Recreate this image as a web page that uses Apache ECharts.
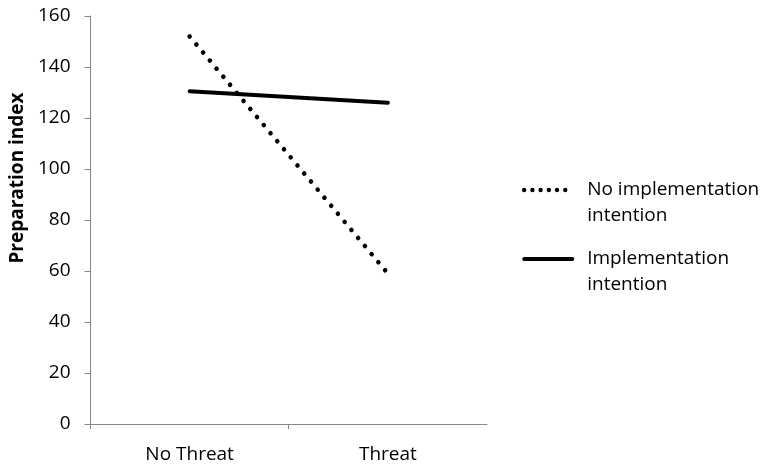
<!DOCTYPE html>
<html>
<head>
<meta charset="utf-8">
<script src="https://cdn.jsdelivr.net/npm/echarts@6/dist/echarts.min.js"></script>
<style>
html,body{margin:0;padding:0;background:#fff;}
#chart{width:771px;height:466px;}
</style>
</head>
<body>
<div id="chart"></div>
<script>
var categories = ["No Threat", "Threat"];
var noIntention = [152, 59];
var intention = [130.5, 126];
var seriesNames = ["No implementation intention", "Implementation intention"];
var legendLabels = ["No implementation\nintention", "Implementation\nintention"];
var yTicks = [0, 20, 40, 60, 80, 100, 120, 140, 160];

var FONT = "Open Sans";
var chart = echarts.init(document.getElementById('chart'), null, {renderer: 'canvas'});
chart.setOption({
  backgroundColor: '#fff',
  animation: false,
  grid: {left: 90, right: 284, top: 16, bottom: 42, containLabel: false},
  xAxis: {
    type: 'category',
    data: categories,
    boundaryGap: true,
    axisLine: {lineStyle: {color: '#868686', width: 1}},
    axisTick: {show: true, length: 5, lineStyle: {color: '#868686'}},
    axisLabel: {color: '#000', fontFamily: FONT, fontSize: 19, margin: 21}
  },
  yAxis: {
    type: 'value',
    min: yTicks[0],
    max: yTicks[yTicks.length - 1],
    interval: 20,
    name: 'Preparation index',
    nameLocation: 'middle',
    nameGap: 62,
    nameTextStyle: {color: '#000', fontFamily: FONT, fontSize: 19, fontWeight: 'bold', padding: [0, 0, 0, 84]},
    axisLine: {show: true, lineStyle: {color: '#868686', width: 1}},
    axisTick: {show: true, length: 6, lineStyle: {color: '#868686'}},
    axisLabel: {color: '#000', fontFamily: FONT, fontSize: 19, margin: 20},
    splitLine: {show: false}
  },
  legend: {
    orient: 'vertical',
    left: 517,
    top: 146,
    itemWidth: 48,
    itemHeight: 14,
    itemGap: -9,
    itemStyle: {opacity: 0},
    formatter: function (n) { return '\n' + legendLabels[seriesNames.indexOf(n)]; },
    textStyle: {color: '#000', fontFamily: FONT, fontSize: 19, lineHeight: 26, padding: [0, 0, 0, 10]},
    data: [
      {name: seriesNames[0], lineStyle: {color: '#000', width: 4.4, type: [0.01, 8.2], cap: 'round'}},
      {name: seriesNames[1], lineStyle: {color: '#000', width: 4, cap: 'round'}}
    ]
  },
  series: [
    {
      name: seriesNames[0],
      type: 'line',
      data: noIntention,
      symbol: 'none',
      color: '#000',
      lineStyle: {color: '#000', width: 4.6, type: [0.01, 10.5], cap: 'round'}
    },
    {
      name: seriesNames[1],
      type: 'line',
      data: intention,
      symbol: 'none',
      color: '#000',
      lineStyle: {color: '#000', width: 4, cap: 'round'}
    }
  ]
});
</script>
</body>
</html>
